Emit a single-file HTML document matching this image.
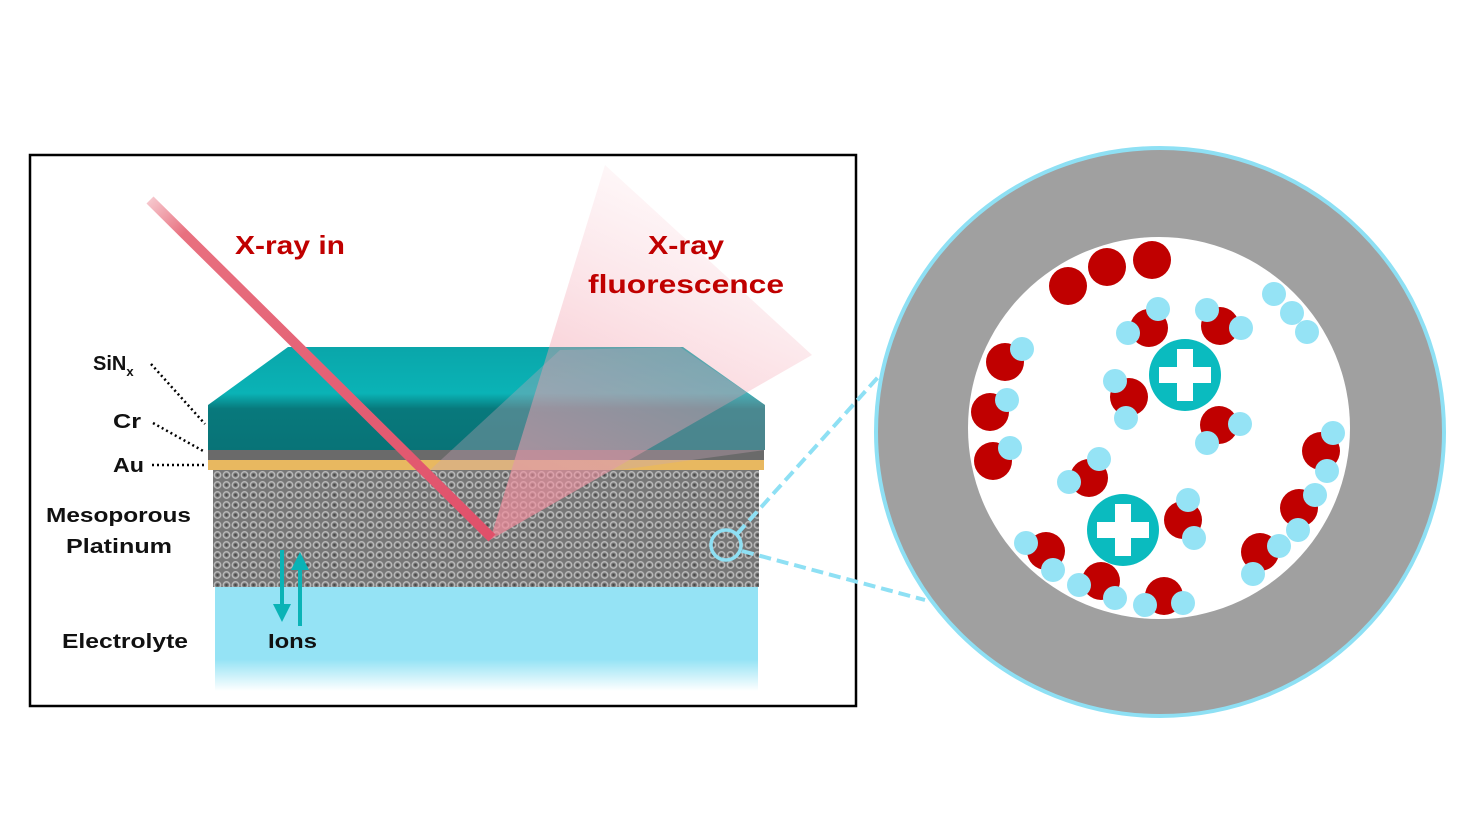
<!DOCTYPE html>
<html><head><meta charset="utf-8"><style>
html,body{margin:0;padding:0;background:#fff;width:1474px;height:830px;overflow:hidden}
svg text{font-family:"Liberation Sans",sans-serif;font-weight:bold}
</style></head><body>
<svg width="1474" height="830" viewBox="0 0 1474 830" xmlns="http://www.w3.org/2000/svg">
<defs>
<pattern id="mesh" x="213" y="470" width="9" height="10" patternUnits="userSpaceOnUse">
<rect width="9" height="10" fill="#777"/>
<circle cx="4.5" cy="5" r="3.2" fill="none" stroke="#b8b8b8" stroke-width="1.5"/>
<circle cx="4.5" cy="5" r="1.2" fill="#4a4a4a"/>
</pattern>
<linearGradient id="elec" x1="0" y1="0" x2="0" y2="1">
<stop offset="0" stop-color="#95e3f5"/><stop offset="0.7" stop-color="#95e3f5"/><stop offset="1" stop-color="#95e3f5" stop-opacity="0"/>
</linearGradient>
<linearGradient id="teal" x1="0" y1="0" x2="0" y2="1">
<stop offset="0" stop-color="#0aa6aa"/><stop offset="0.45" stop-color="#0ab3b6"/><stop offset="0.6" stop-color="#08797c"/><stop offset="1" stop-color="#087377"/>
</linearGradient>
<linearGradient id="fluo" x1="0" y1="1" x2="0.4" y2="0">
<stop offset="0" stop-color="#f08a9a" stop-opacity="0.75"/><stop offset="1" stop-color="#f5b0bc" stop-opacity="0.1"/>
</linearGradient>
<linearGradient id="beam" x1="0" y1="0" x2="1" y2="1">
<stop offset="0" stop-color="#e8707f" stop-opacity="0.4"/><stop offset="0.1" stop-color="#e8707f"/><stop offset="1" stop-color="#e0506a"/>
</linearGradient>
</defs>
<rect x="30" y="155" width="826" height="551" fill="#fff" stroke="#000" stroke-width="2.5"/>
<rect x="215" y="586" width="543" height="105" fill="url(#elec)"/>
<rect x="213" y="470" width="546" height="117" fill="url(#mesh)"/>
<rect x="208" y="460" width="556" height="10" fill="#e8b860"/>
<rect x="208" y="450" width="556" height="10" fill="#6a6a6a"/>
<polygon points="288,347 683,347 765,405 765,450 208,450 208,405" fill="url(#teal)"/>
<polygon points="490,540 605,165 812,355" fill="url(#fluo)"/>
<polygon points="430,470 560,350 680,347 765,405 765,450 620,470" fill="#c7a6b6" opacity="0.35"/>
<line x1="150" y1="200" x2="492" y2="538" stroke="url(#beam)" stroke-width="10"/>
<text x="235" y="254" font-size="26" fill="#c00000" textLength="110" lengthAdjust="spacingAndGlyphs">X-ray in</text>
<text x="648" y="254" font-size="26" fill="#c00000" textLength="76" lengthAdjust="spacingAndGlyphs">X-ray</text>
<text x="588" y="293" font-size="26" fill="#c00000" textLength="196" lengthAdjust="spacingAndGlyphs">fluorescence</text>
<g font-size="20" fill="#111">
<text x="93" y="370">SiN<tspan font-size="13" dy="6">x</tspan></text>
<text x="113" y="428" textLength="28" lengthAdjust="spacingAndGlyphs">Cr</text>
<text x="113" y="472" textLength="31" lengthAdjust="spacingAndGlyphs">Au</text>
<text x="46" y="522" textLength="145" lengthAdjust="spacingAndGlyphs">Mesoporous</text>
<text x="66" y="553" textLength="106" lengthAdjust="spacingAndGlyphs">Platinum</text>
<text x="62" y="648" textLength="126" lengthAdjust="spacingAndGlyphs">Electrolyte</text>
<text x="268" y="648" textLength="49" lengthAdjust="spacingAndGlyphs">Ions</text>
</g>
<g stroke="#000" stroke-width="2.5" stroke-dasharray="2,3" fill="none">
<line x1="151" y1="364" x2="205" y2="424"/>
<line x1="153" y1="423" x2="205" y2="452"/>
<line x1="152" y1="465" x2="205" y2="465"/>
</g>
<g fill="#0ab3b6" stroke="#0ab3b6">
<line x1="282" y1="550" x2="282" y2="608" stroke-width="4"/>
<polygon points="273,604 291,604 282,622" stroke="none"/>
<line x1="300" y1="626" x2="300" y2="566" stroke-width="4"/>
<polygon points="291,570 309,570 300,552" stroke="none"/>
</g>
<circle cx="726" cy="545" r="15" fill="none" stroke="#8ee0f4" stroke-width="3.5"/>
<g stroke="#8ee0f4" stroke-width="4" stroke-dasharray="12,6">
<line x1="737" y1="534" x2="880" y2="375"/>
<line x1="742" y1="551" x2="925" y2="600"/>
</g>
<circle cx="1160" cy="432" r="284" fill="#a0a0a0" stroke="#8ee0f4" stroke-width="4"/>
<circle cx="1159" cy="428" r="191" fill="#fff"/>
<g fill="#c00000">
<circle cx="1068" cy="286" r="19"/><circle cx="1107" cy="267" r="19"/><circle cx="1152" cy="260" r="19"/>
<circle cx="1149" cy="328" r="19"/><circle cx="1220" cy="326" r="19"/><circle cx="1129" cy="397" r="19"/>
<circle cx="1219" cy="425" r="19"/><circle cx="1005" cy="362" r="19"/><circle cx="990" cy="412" r="19"/>
<circle cx="993" cy="461" r="19"/><circle cx="1089" cy="478" r="19"/><circle cx="1183" cy="520" r="19"/>
<circle cx="1321" cy="451" r="19"/><circle cx="1299" cy="508" r="19"/><circle cx="1260" cy="552" r="19"/>
<circle cx="1046" cy="551" r="19"/><circle cx="1101" cy="581" r="19"/><circle cx="1164" cy="596" r="19"/>
</g>
<g fill="#95e3f5">
<circle cx="1274" cy="294" r="12"/><circle cx="1292" cy="313" r="12"/><circle cx="1307" cy="332" r="12"/>
<circle cx="1158" cy="309" r="12"/><circle cx="1128" cy="333" r="12"/>
<circle cx="1207" cy="310" r="12"/><circle cx="1241" cy="328" r="12"/>
<circle cx="1115" cy="381" r="12"/><circle cx="1126" cy="418" r="12"/>
<circle cx="1240" cy="424" r="12"/><circle cx="1207" cy="443" r="12"/>
<circle cx="1022" cy="349" r="12"/><circle cx="1007" cy="400" r="12"/><circle cx="1010" cy="448" r="12"/>
<circle cx="1099" cy="459" r="12"/><circle cx="1069" cy="482" r="12"/>
<circle cx="1188" cy="500" r="12"/><circle cx="1194" cy="538" r="12"/>
<circle cx="1333" cy="433" r="12"/><circle cx="1327" cy="471" r="12"/>
<circle cx="1315" cy="495" r="12"/><circle cx="1298" cy="530" r="12"/>
<circle cx="1279" cy="546" r="12"/><circle cx="1253" cy="574" r="12"/>
<circle cx="1026" cy="543" r="12"/><circle cx="1053" cy="570" r="12"/>
<circle cx="1079" cy="585" r="12"/><circle cx="1115" cy="598" r="12"/>
<circle cx="1145" cy="605" r="12"/><circle cx="1183" cy="603" r="12"/>
</g>
<g>
<circle cx="1185" cy="375" r="36" fill="#0abbbf"/>
<rect x="1159" y="367" width="52" height="16" fill="#fff"/><rect x="1177" y="349" width="16" height="52" fill="#fff"/>
<circle cx="1123" cy="530" r="36" fill="#0abbbf"/>
<rect x="1097" y="522" width="52" height="16" fill="#fff"/><rect x="1115" y="504" width="16" height="52" fill="#fff"/>
</g>
</svg>
</body></html>
